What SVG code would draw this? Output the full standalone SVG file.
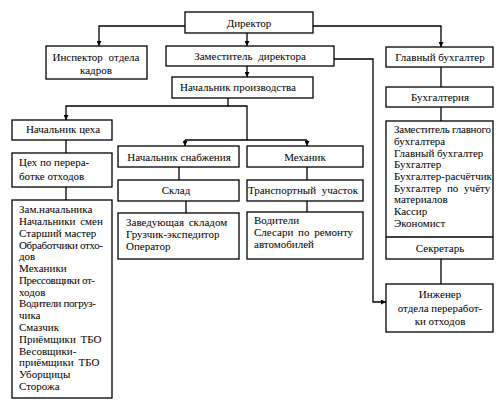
<svg xmlns="http://www.w3.org/2000/svg" width="504" height="414" viewBox="0 0 504 414" font-family="Liberation Serif, Times New Roman, serif">
<style>
.b{fill:#fff;stroke:#000;stroke-width:1.3}
.t{font-size:11px;fill:#000}
.s{font-size:11px;fill:#000}
.m{text-anchor:middle}
.c{fill:none;stroke:#000;stroke-width:1.3}
</style>
<defs>
<marker id="a" viewBox="0 0 10 10" refX="10" refY="5" markerWidth="5" markerHeight="5" orient="auto" markerUnits="userSpaceOnUse">
<path d="M0,0 L10,5 L0,10 z" fill="#000"/>
</marker>
</defs>
<rect width="504" height="414" fill="#fff"/>
<g id="connectors">
<path class="c" d="M185,26 H99 V46" marker-end="url(#a)"/>
<path class="c" d="M247,33 V46" marker-end="url(#a)"/>
<path class="c" d="M313,26 H441 V47" marker-end="url(#a)"/>
<path class="c" d="M247,66 V77" marker-end="url(#a)"/>
<path class="c" d="M334,59 H373 V302 H386" marker-end="url(#a)"/>
<path class="c" d="M228,98 V106 H66 V120" marker-end="url(#a)"/>
<path class="c" d="M228,106 H247 V140"/>
<path class="c" d="M185,140 H307"/>
<path class="c" d="M185,140 V146" marker-end="url(#a)"/>
<path class="c" d="M307,140 V146" marker-end="url(#a)"/>
<path class="c" d="M66,140 V153 M66,187 V200"/>
<path class="c" d="M179,167 V180 M186,201 V213"/>
<path class="c" d="M307,167 V180 M307,201 V212"/>
<path class="c" d="M441,67 V87 M441,107 V121 M441,259 V284"/>
</g>
<g id="director"><rect class="b" x="185" y="12" width="128" height="21"/><text class="t m" x="249" y="27">Директор</text></g>
<g id="inspector"><rect class="b" x="46" y="46" width="101" height="33"/><text class="t m" x="96" y="61" word-spacing="3">Инспектор отдела</text><text class="t m" x="96" y="74">кадров</text></g>
<g id="deputy"><rect class="b" x="166" y="46" width="168" height="20"/><text class="t m" x="250" y="60" word-spacing="3">Заместитель директора</text></g>
<g id="chief-accountant"><rect class="b" x="386" y="47" width="107" height="20"/><text class="t m" x="440" y="61">Главный бухгалтер</text></g>
<g id="production-head"><rect class="b" x="172" y="77" width="141" height="21"/><text class="t m" x="238" y="91">Начальник производства</text></g>
<g id="accounting"><rect class="b" x="386" y="87" width="107" height="20"/><text class="t m" x="440" y="101">Бухгалтерия</text></g>
<g id="shop-head"><rect class="b" x="12" y="120" width="100" height="20"/><text class="t m" x="63" y="133">Начальник цеха</text></g>
<g id="shop"><rect class="b" x="12" y="153" width="100" height="34"/><text class="t" x="19" y="166">Цех по перера-</text><text class="t" x="19" y="180">ботке отходов</text></g>
<g id="shop-staff"><rect class="b" x="12" y="200" width="100" height="198"/>
<text class="s" x="19" y="213">Зам.начальника</text>
<text class="s" x="19" y="225" word-spacing="2">Начальники смен</text>
<text class="s" x="19" y="237">Старший мастер</text>
<text class="s" x="19" y="249" textLength="84" lengthAdjust="spacing">Обработчики отхо-</text>
<text class="s" x="19" y="260">дов</text>
<text class="s" x="19" y="272">Механики</text>
<text class="s" x="19" y="284" textLength="76" lengthAdjust="spacing">Прессовщики от-</text>
<text class="s" x="19" y="296">ходов</text>
<text class="s" x="19" y="307" textLength="77" lengthAdjust="spacing">Водители погруз-</text>
<text class="s" x="19" y="319">чика</text>
<text class="s" x="19" y="331">Смазчик</text>
<text class="s" x="19" y="343" word-spacing="2">Приёмщики ТБО</text>
<text class="s" x="19" y="355">Весовщики-</text>
<text class="s" x="19" y="366" word-spacing="2">приёмщики ТБО</text>
<text class="s" x="19" y="378">Уборщицы</text>
<text class="s" x="19" y="390">Сторожа</text>
</g>
<g id="supply-head"><rect class="b" x="118" y="146" width="121" height="21"/><text class="t m" x="179" y="161">Начальник снабжения</text></g>
<g id="mechanic"><rect class="b" x="247" y="146" width="116" height="21"/><text class="t m" x="305" y="161">Механик</text></g>
<g id="warehouse"><rect class="b" x="118" y="180" width="121" height="21"/><text class="t m" x="176" y="194">Склад</text></g>
<g id="transport"><rect class="b" x="247" y="180" width="116" height="21"/><text class="t m" x="303" y="194" word-spacing="3">Транспортный участок</text></g>
<g id="warehouse-staff"><rect class="b" x="118" y="213" width="121" height="46"/>
<text class="s" x="126" y="226" word-spacing="2">Заведующая складом</text>
<text class="s" x="126" y="238">Грузчик-экспедитор</text>
<text class="s" x="126" y="250">Оператор</text>
</g>
<g id="transport-staff"><rect class="b" x="247" y="212" width="116" height="47"/>
<text class="s" x="254" y="224">Водители</text>
<text class="s" x="254" y="236" word-spacing="2">Слесари по ремонту</text>
<text class="s" x="254" y="248">автомобилей</text>
</g>
<g id="accounting-staff"><rect class="b" x="386" y="121" width="107" height="138"/><line class="c" x1="386" y1="237" x2="493" y2="237"/>
<text class="s" x="394" y="133" textLength="97" lengthAdjust="spacing">Заместитель главного</text>
<text class="s" x="394" y="145">бухгалтера</text>
<text class="s" x="394" y="157">Главный бухгалтер</text>
<text class="s" x="394" y="168">Бухгалтер</text>
<text class="s" x="394" y="180">Бухгалтер-расчётчик</text>
<text class="s" x="394" y="192" word-spacing="3">Бухгалтер по учёту</text>
<text class="s" x="394" y="203">материалов</text>
<text class="s" x="394" y="215">Кассир</text>
<text class="s" x="394" y="227">Экономист</text>
<text class="t m" x="440" y="252">Секретарь</text>
</g>
<g id="engineer"><rect class="b" x="386" y="284" width="107" height="48"/>
<text class="t m" x="440" y="298">Инженер</text>
<text class="t m" x="440" y="312">отдела переработ-</text>
<text class="t m" x="440" y="325">ки отходов</text>
</g>
</svg>
